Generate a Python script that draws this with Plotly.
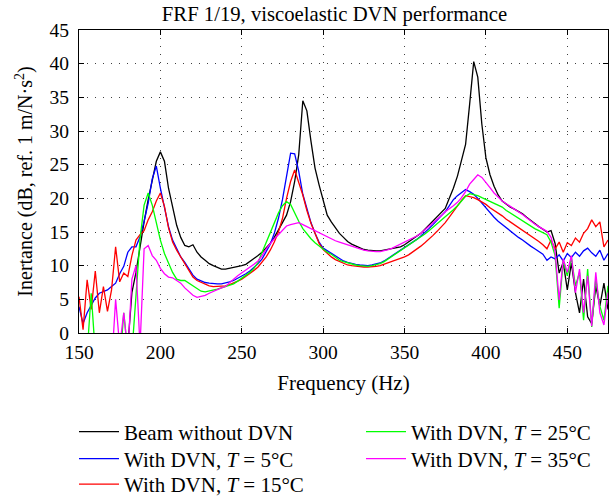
import numpy as np
import plotly.graph_objects as go

freq = np.arange(150, 475.01, 2.5)

beam = [
    -5, -5, -5, -5, -5, -5, -5, -5, -5, -5,
    -5, -5, -2, 6, 9, 13, 16.5, 19.8, 22.5, 25.5,
    26.9, 25.5, 21.5, 18.5, 16, 14.2, 13, 12.8, 13.1, 12,
    11.3, 10.8, 10.3, 10, 9.7, 9.5, 9.5, 9.6, 9.7, 9.8,
    10, 10.2, 10.6, 11, 11.5, 12, 12.6, 13.3, 14.2, 15.2,
    16.4, 17.5, 19.5, 22.5, 26.5, 34.5, 33, 28.5, 24.5, 22,
    19.8, 17.5, 16.5, 15.6, 14.8, 14.2, 13.6, 13.2, 12.9, 12.6,
    12.4, 12.3, 12.2, 12.2, 12.2, 12.3, 12.4, 12.5, 12.6, 12.8,
    13.1, 13.5, 13.9, 14.3, 14.8, 15.4, 16, 16.6, 17.2, 17.9,
    18.5, 20, 21.5, 23.3, 25.5, 28, 34, 40.3, 38, 31,
    26, 23.5, 21.8, 20.5, 19.6, 19.1, 18.7, 18.4, 18.1, 17.7,
    17.2, 16.7, 16.2, 15.8, 15.4, 15.0, 15.2, 13.3, 8.9, 10.5,
    6.4, 10.4, 6, 3, 8, 2.4, 1.4, 7, 4, 7.4,
    3.5,
]

dvn_5 = [
    3.9, 1.4, 3, 4.2, 5.2, 5.9, 6.2, 6.4, 6.9, 7.4,
    8.8, 9.9, 12, 12.8, 12.8, 14.3, 16.6, 19.3, 22.9, 24.8,
    21.5, 18.5, 15.8, 13.8, 12.5, 11.3, 10.5, 9.5, 8.6, 8,
    7.7, 7.5, 7.4, 7.3, 7.3, 7.3, 7.4, 7.6, 7.8, 8.1,
    8.4, 8.8, 9.2, 9.7, 10.3, 11, 12, 13.2, 14.8, 17,
    19.8, 23, 26.7, 26.6, 24, 20.6, 18.5, 16.4, 14.8, 13.5,
    12.6, 12.2, 11.8, 11.4, 11, 10.7, 10.5, 10.3, 10.2, 10.1,
    10, 10, 10.1, 10.2, 10.4, 10.7, 11.1, 11.5, 11.8, 12.2,
    12.6, 13, 13.4, 13.9, 14.4, 14.9, 15.5, 16.1, 16.8, 17.4,
    18, 19, 19.8, 20.4, 20.9, 21.3, 21, 20.6, 20, 19.3,
    18.5, 17.9, 17.2, 16.6, 16.1, 15.6, 15.1, 14.7, 14.2, 13.8,
    13.3, 12.9, 12.5, 12.1, 11.7, 10.8, 11.3, 11, 11.6, 10.7,
    11.8, 11.2, 12, 11.4, 12.2, 12.6, 11.9, 11.4, 12.3, 10.8,
    11.8,
]

dvn_15 = [
    5.4, 0.5, 7.9, 3.5, 9.2, 3, 6.9, 3.2, 6.4, 12.8,
    7.6, 8.9, 8.4, 11.5, 13.8, 14.6, 15.2, 16.8, 18, 19.6,
    20.8, 18.8, 15.6, 13.5, 12.3, 11.3, 10.3, 9.2, 8.3, 7.8,
    7.5, 7.2, 7, 6.9, 6.9, 6.9, 7, 7.2, 7.4, 7.7,
    8, 8.4, 8.8, 9.3, 9.8, 10.5, 11.3, 12.3, 13.5, 15,
    17, 20, 22.5, 24.2, 22.5, 20.5, 18.2, 16.3, 14.8, 13.3,
    12.4, 11.8, 11.3, 10.9, 10.6, 10.3, 10.1, 10, 9.9, 9.8,
    9.8, 9.8, 9.8, 9.9, 10, 10.2, 10.4, 10.6, 10.8, 11,
    11.3, 11.6, 12, 12.4, 12.9, 13.4, 13.9, 14.5, 15.1, 15.7,
    16.4, 17.2, 18.1, 18.9, 19.7, 20.4, 20.3, 20.1, 19.8, 19.5,
    19.1, 18.6, 18.2, 17.9, 17.4, 16.9, 16.5, 16.1, 15.7, 15.2,
    14.8, 14.4, 14, 13.6, 13.1, 12.5, 13.8, 12.5, 13.5, 12,
    13.4, 13, 14.1, 13.5, 14.8, 15.5, 16.8, 15.8, 16.5, 12.8,
    13.8,
]

dvn_25 = [
    -5, -5, -3, 5.9, -3, -5, -5, -5, -5, -5,
    -5, 3, -3, -3, 6, 14, 19, 20.8, 19, 16.5,
    13.8, 11.8, 10.4, 9, 8, 7.8, 7.8, 7.4, 6.9, 6.5,
    6.2, 6.1, 6.2, 6.3, 6.5, 6.7, 6.9, 7.1, 7.3, 7.7,
    8.1, 8.5, 9, 9.6, 10.5, 12, 13.4, 15, 16.4, 17.8,
    18.9, 19.5, 19.1, 17.8, 16.6, 15.5, 14.7, 14, 13.4, 12.9,
    12.4, 12, 11.7, 11.3, 10.8, 10.6, 10.4, 10.2, 10.1, 10,
    9.9, 9.9, 10, 10.1, 10.3, 10.6, 11, 11.4, 11.8, 12.3,
    12.7, 13.1, 13.5, 13.9, 14.2, 14.7, 15.2, 15.7, 16.2, 16.7,
    17.2, 17.7, 18.3, 18.9, 19.6, 20.3, 20.7, 20.6, 20.4, 20.1,
    19.8, 19.5, 19.3, 19, 18.7, 18.2, 17.8, 17.4, 17.1, 16.7,
    16.3, 15.9, 15.5, 15.2, 14.9, 14.6, 13.5, 11.5, 3.7, 10.8,
    8.5, 11.2, 7, 9, 1.9, 9.5, 0.9, 8, 4, 1.9,
    7,
]

dvn_35 = [
    -5, -5, -5, -5, -5, -5, -5, -5, -5, 5,
    -2, 3, -3, 8, 10, -2, 12.5, 13, 11.5, 10.8,
    9.6, 8.8, 8.3, 8.2, 7.8, 7.4, 6.7, 6.1, 5.6, 5.3,
    5.4, 5.6, 5.9, 6.2, 6.5, 6.7, 6.9, 7.5, 8, 8.5,
    8.9, 9.3, 9.7, 10.2, 10.7, 11.5, 12.5, 13.3, 14, 14.6,
    15.2, 15.9, 16.1, 16.3, 16.4, 16.1, 15.8, 15.4, 15.1, 14.8,
    14.5, 14.2, 14, 13.7, 13.5, 13.3, 13.1, 12.9, 12.6, 12.4,
    12.3, 12.2, 12.1, 12.1, 12.1, 12.2, 12.4, 12.6, 12.9, 13.1,
    13.4, 13.7, 14, 14.4, 14.8, 15.3, 15.8, 16.3, 16.8, 17.4,
    18, 18.4, 18.9, 19.4, 20.1, 21, 22.1, 22.8, 23.5, 23.1,
    22.4, 21.6, 20.8, 20.2, 19.6, 19.2, 18.8, 18.4, 18.1, 17.6,
    17.1, 16.6, 16.2, 15.8, 15.4, 15.1, 14.2, 12, 4.9, 11,
    9, 11.5, 6, 9.5, 3, 8.5, 1, 9, 3, 1.2,
    6,
]

names = [
    "Beam without DVN",
    "With DVN, <i>T</i> = 5°C",
    "With DVN, <i>T</i> = 15°C",
    "With DVN, <i>T</i> = 25°C",
    "With DVN, <i>T</i> = 35°C",
]
colors = ["#000000", "#0000ff", "#ff0000", "#00ff00", "#ff00ff"]
series = [beam, dvn_5, dvn_15, dvn_25, dvn_35]
legends = ["legend", "legend2", "legend3", "legend4", "legend5"]

x_ticks = [150, 200, 250, 300, 350, 400, 450]
y_ticks = [0, 5, 10, 15, 20, 25, 30, 35, 40, 45]

FONT = "Liberation Serif"

fig = go.Figure()
for i, (nm, col, ys, lg) in enumerate(zip(names, colors, series, legends)):
    fig.add_trace(go.Scatter(
        x=freq, y=ys, mode="lines", name=nm,
        line=dict(color=col, width=1.3),
        legend=lg,
    ))

axis_common = dict(
    showline=True, linecolor="black", linewidth=1, mirror="ticks",
    ticks="inside", ticklen=5, tickcolor="black",
    showgrid=True, gridcolor="rgba(0,0,0,0.75)", gridwidth=1, griddash="1px,7px",
    zeroline=False, tickfont=dict(family=FONT, size=19.5, color="black"),
)

legend_common = dict(
    xanchor="left", yanchor="middle", bgcolor="rgba(0,0,0,0)",
    font=dict(family=FONT, size=21), itemwidth=40,
)

# legend entry positions (pixel -> paper coords)
col_x = [74, 74, 74, 361, 361]
row_y = [432, 459, 484.5, 432, 459]
legend_layout = {}
for lg, px, py in zip(legends, col_x, row_y):
    legend_layout[lg] = dict(x=(px - 79) / 529, y=(333 - py) / 303, **legend_common)

fig.update_layout(
    width=612, height=496,
    margin=dict(l=79, r=4, t=30, b=163, autoexpand=False),
    paper_bgcolor="white", plot_bgcolor="white",
    font=dict(family=FONT, size=19, color="black"),
    title=dict(text="FRF 1/19, viscoelastic DVN performance",
               x=0.483, xref="paper", xanchor="center",
               y=1 - 14 / 496, yref="container", yanchor="middle",
               font=dict(family=FONT, size=20.7)),
    xaxis=dict(range=[150, 475], tickvals=x_ticks, ticklabelstandoff=2,
               title=dict(text="Frequency (Hz)", font=dict(family=FONT, size=21), standoff=12),
               **axis_common),
    yaxis=dict(range=[0, 45], tickvals=y_ticks, ticklabelstandoff=5,
               title=dict(text="Inertance (dB, ref. 1 m/N·s<sup>2</sup>)", font=dict(family=FONT, size=20), standoff=11),
               **axis_common),
    showlegend=True,
    **legend_layout,
)

fig.write_html("out.html")
